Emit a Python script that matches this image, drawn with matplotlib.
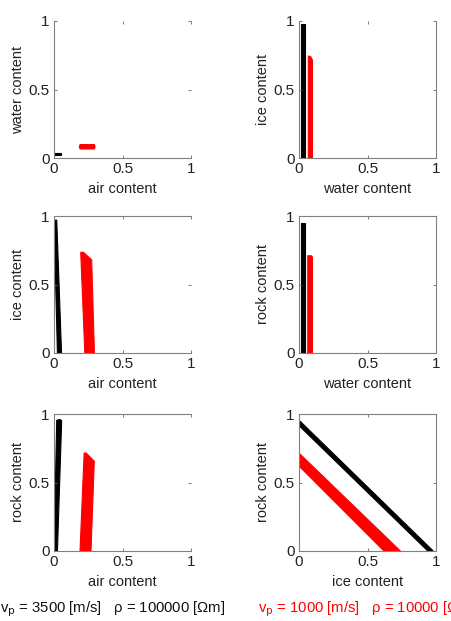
import matplotlib
matplotlib.use("Agg")
import matplotlib.pyplot as plt

plt.rcParams['font.family'] = ['Liberation Sans', 'DejaVu Sans']

# panel definitions: (xlabel, ylabel)
xlabels = ["air content", "water content", "air content", "water content", "air content", "ice content"]
ylabels = ["water content", "ice content", "ice content", "rock content", "rock content", "rock content"]
ticks = [0, 0.5, 1]
tick_labels = ["0", "0.5", "1"]

# solution regions (polygon vertices in data units) for vp=3500, rho=100000 (black)
black_x = [
    [0.0, 0.05, 0.05, 0.0],
    [0.015, 0.044, 0.044, 0.015],
    [0.0, 0.02, 0.055, 0.025],
    [0.015, 0.044, 0.044, 0.015],
    [0.0, 0.025, 0.056, 0.045, 0.02],
    [0.0, 0.0, 0.98, 0.94],
]
black_y = [
    [0.022, 0.022, 0.037, 0.037],
    [0.0, 0.0, 0.98, 0.98],
    [0.97, 0.97, 0.0, 0.0],
    [0.0, 0.0, 0.95, 0.95],
    [0.0, 0.0, 0.95, 0.96, 0.955],
    [0.915, 0.955, 0.0, 0.0],
]
# solution regions for vp=1000, rho=10000 (red)
red_x = [
    [0.19, 0.295, 0.30, 0.295, 0.19, 0.185],
    [0.068, 0.098, 0.098, 0.085, 0.068],
    [0.195, 0.215, 0.275, 0.295, 0.225],
    [0.064, 0.098, 0.098, 0.09, 0.064],
    [0.19, 0.27, 0.294, 0.235, 0.22],
    [0.0, 0.0, 0.74, 0.62],
]
red_y = [
    [0.066, 0.066, 0.082, 0.098, 0.098, 0.082],
    [0.0, 0.0, 0.715, 0.74, 0.745],
    [0.735, 0.735, 0.68, 0.0, 0.0],
    [0.0, 0.0, 0.70, 0.71, 0.71],
    [0.0, 0.0, 0.655, 0.715, 0.715],
    [0.62, 0.715, 0.0, 0.0],
]
visible_spines = [
    ("left", "bottom"),
    ("left", "bottom", "right"),
    ("left", "bottom", "top"),
    ("left", "bottom", "top", "right"),
    ("left", "bottom", "top"),
    ("left", "bottom", "top", "right"),
]

W, H = 451, 621
fig = plt.figure(figsize=(W / 100, H / 100), dpi=100)

lefts = [54, 299]
tops = [21, 216, 414]
aw, ah = 137, 137

for i in range(6):
    r, c = divmod(i, 2)
    l = lefts[c]
    t = tops[r]
    ax = fig.add_axes([l / W, 1 - (t + ah) / H, aw / W, ah / H])
    ax.fill(black_x[i], black_y[i], color="black", lw=0.8, ec="black")
    ax.fill(red_x[i], red_y[i], color="#ff0000", lw=0.8, ec="#ff0000")
    ax.set_xlim(0, 1)
    ax.set_ylim(0, 1)
    ax.set_xticks(ticks)
    ax.set_yticks(ticks)
    ax.set_xticklabels(tick_labels)
    ax.set_yticklabels(tick_labels)
    ax.tick_params(direction="in", length=2.5, width=0.6, top=True, right=True,
                   labelsize=11, colors="#222222", pad=3, color="#666666")
    for name, sp in ax.spines.items():
        sp.set_color("#808080")
        sp.set_linewidth(0.8)
        sp.set_visible(name in visible_spines[i])
    ax.set_xlabel(xlabels[i], fontsize=10.5, color="#222222", labelpad=4)
    ax.set_ylabel(ylabels[i], fontsize=10.5, color="#222222", labelpad=3)

fig.text(0 / W, 1 - 612 / H, r"v$_\mathrm{p}$ = 3500 [m/s]   ρ = 100000 [Ωm]",
         fontsize=10.7, color="#111111", ha="left", va="baseline")
fig.text(258 / W, 1 - 612 / H, r"v$_\mathrm{p}$ = 1000 [m/s]   ρ = 10000 [Ωm]",
         fontsize=10.7, color="#ff0000", ha="left", va="baseline")

fig.savefig("out.png", dpi=100)
